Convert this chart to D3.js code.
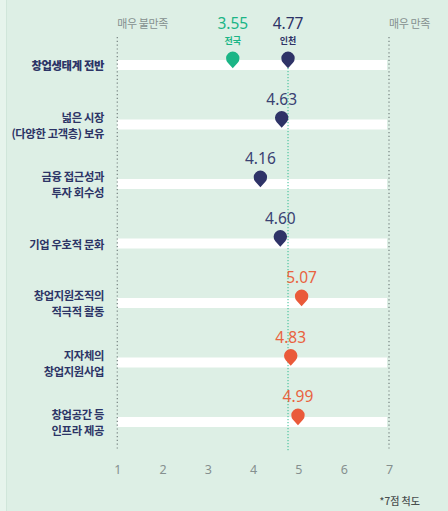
<!DOCTYPE html>
<html><head><meta charset="utf-8">
<script src="https://cdn.jsdelivr.net/npm/d3@7/dist/d3.min.js"></script>
<style>
html,body{margin:0;padding:0;background:#ddefe5;}
svg{display:block;}
</style></head>
<body>
<svg id="chart" width="448" height="511"></svg>
<script>
// ---- data ----
const categories = [
  ["창업생태계 전반"],
  ["넓은 시장", "(다양한 고객층) 보유"],
  ["금융 접근성과", "투자 회수성"],
  ["기업 우호적 문화"],
  ["창업지원조직의", "적극적 활동"],
  ["지자체의", "창업지원사업"],
  ["창업공간 등", "인프라 제공"]
];
const incheonValues = [4.77, 4.63, 4.16, 4.60, 5.07, 4.83, 4.99];
const groups = ["total", "env", "env", "env", "support", "support", "support"];
const nationalValue = 3.55;
const nationalLabel = "전국";
const incheonLabel = "인천";
const tickValues = [1, 2, 3, 4, 5, 6, 7];
const scaleLabels = ["매우 불만족", "매우 만족"];
const footnote = "*7점 척도";

// ---- styles ----
const C = {
  bg: "#ddefe5", band: "#ffffff", green: "#1bb586", navy: "#2e3367",
  navy2: "#3a4172", orange: "#ea5a3a", grey: "#85908f", text: "#2c3466"
};
const colorOf = g => g === "support" ? C.orange : C.navy;
const labelColorOf = g => g === "support" ? "#e9633f" : (g === "total" ? C.navy : C.navy2);
const KR = "'Noto Sans CJK KR','Noto Sans',sans-serif";
const NUM = "'Noto Sans','Open Sans',sans-serif";

const svg = d3.select("#chart");
svg.append("rect").attr("width", 448).attr("height", 511).attr("fill", C.bg);
svg.append("rect").attr("x", 0).attr("y", 0).attr("width", 6).attr("height", 511).attr("fill", "#e6f4ec");
svg.append("line").attr("x1", 6.5).attr("x2", 6.5).attr("y1", 0).attr("y2", 511)
  .attr("stroke", "#d0e6da").attr("stroke-width", 1);

const x = d3.scaleLinear().domain([1, 7]).range([117.3, 389]);
const y = d3.scalePoint().domain(d3.range(categories.length)).range([65, 422]);

// bands
svg.selectAll("rect.band").data(categories).join("rect")
  .attr("class", "band")
  .attr("x", x(1)).attr("width", x(7) - x(1) - 2)
  .attr("y", (d, i) => y(i) - 5).attr("height", 10)
  .attr("fill", C.band);

// dotted boundary lines
[1, 7].forEach(v => {
  svg.append("line")
    .attr("x1", x(v)).attr("x2", x(v))
    .attr("y1", 37).attr("y2", 451)
    .attr("stroke", "#7d8a88").attr("stroke-width", 1.3)
    .attr("stroke-dasharray", "1.2,2.6");
});
// incheon overall reference line
svg.append("line")
  .attr("x1", x(incheonValues[0])).attr("x2", x(incheonValues[0]))
  .attr("y1", y(0) + 3).attr("y2", 451)
  .attr("stroke", C.green).attr("stroke-width", 0.9)
  .attr("stroke-dasharray", "1.2,1.8");

// scale end labels
svg.selectAll("text.end").data(scaleLabels).join("text")
  .attr("class", "end")
  .attr("x", (d, i) => i === 0 ? x(1) : x(7))
  .attr("y", 28)
  .attr("font-family", KR).attr("font-size", 11).attr("letter-spacing", -0.4)
  .attr("fill", C.grey)
  .text(d => d);

// category labels (one text per line)
const catLines = [];
categories.forEach((lines, i) => {
  const n = lines.length;
  lines.forEach((line, k) => catLines.push({ i, line, off: (k - (n - 1) / 2) * 16 }));
});
svg.selectAll("text.cat").data(catLines).join("text")
  .attr("class", "cat")
  .attr("text-anchor", "end")
  .attr("x", 104)
  .attr("y", d => y(d.i) + d.off)
  .attr("dominant-baseline", "central")
  .attr("font-family", KR).attr("font-size", 11.3)
  .attr("letter-spacing", -0.35)
  .attr("font-weight", d => d.i === 0 ? 800 : 600)
  .attr("fill", C.text)
  .text(d => d.line);

// pin path generator (tip at origin)
function pinPath(r, d) {
  const ca = r / d, sa = Math.sqrt(1 - ca * ca);
  const px = r * sa, py = -d + r * ca;
  return `M0,0 L${-px},${py} A${r},${r} 0 1,1 ${px},${py} Z`;
}
const PIN = pinPath(6.7, 10);

// national marker (row 0)
svg.append("path")
  .attr("d", PIN)
  .attr("transform", `translate(${x(nationalValue)},${y(0) + 3.3})`)
  .attr("fill", C.green);
svg.append("text")
  .attr("x", x(nationalValue)).attr("y", y(0) - 36.5)
  .attr("text-anchor", "middle")
  .attr("font-family", NUM).attr("font-size", 15.5)
  .attr("fill", C.green)
  .text(nationalValue.toFixed(2));
svg.append("text")
  .attr("x", x(nationalValue)).attr("y", y(0) - 20.8)
  .attr("text-anchor", "middle")
  .attr("font-family", KR).attr("font-size", 9).attr("font-weight", 700)
  .attr("fill", C.green)
  .text(nationalLabel);

// incheon markers
svg.selectAll("path.pin").data(incheonValues).join("path")
  .attr("class", "pin")
  .attr("d", PIN)
  .attr("transform", (d, i) => `translate(${x(d)},${y(i) + 3.3})`)
  .attr("fill", (d, i) => colorOf(groups[i]));

svg.selectAll("text.val").data(incheonValues).join("text")
  .attr("class", "val")
  .attr("x", d => x(d))
  .attr("y", (d, i) => i === 0 ? y(i) - 36.5 : y(i) - 20)
  .attr("text-anchor", "middle")
  .attr("font-family", NUM).attr("font-size", 15.5)
  .attr("fill", (d, i) => labelColorOf(groups[i]))
  .text(d => d.toFixed(2));

svg.append("text")
  .attr("x", x(incheonValues[0])).attr("y", y(0) - 20.8)
  .attr("text-anchor", "middle")
  .attr("font-family", KR).attr("font-size", 9).attr("font-weight", 700)
  .attr("fill", C.navy)
  .text(incheonLabel);

// bottom axis
const axis = d3.axisBottom(x).tickValues(tickValues).tickSize(0).tickPadding(0)
  .tickFormat(d3.format("d"));
const ax = svg.append("g").attr("transform", "translate(0,465)").call(axis);
ax.select(".domain").remove();
ax.selectAll("text")
  .attr("dy", "0.71em")
  .attr("font-family", NUM).attr("font-size", 12.5)
  .attr("fill", C.grey);

// footnote
svg.append("text")
  .attr("x", 420).attr("y", 505)
  .attr("text-anchor", "end")
  .attr("font-family", KR).attr("font-size", 10)
  .attr("font-weight", 500)
  .attr("fill", "#4a5050")
  .text(footnote);
</script>
</body></html>
